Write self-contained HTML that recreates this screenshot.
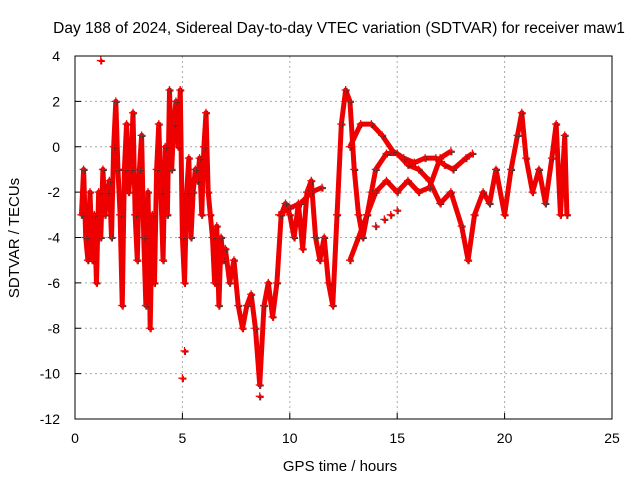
<!DOCTYPE html>
<html><head><meta charset="utf-8"><style>
body{margin:0;background:#fff;}
svg{display:block;font-family:"Liberation Sans",sans-serif;}
</style></head><body>
<svg id="chart" width="640" height="480">
<text x="339" y="33" font-size="15.5" text-anchor="middle">Day 188 of 2024, Sidereal Day-to-day VTEC variation (SDTVAR) for receiver maw1</text>
<text x="340" y="471" font-size="15" text-anchor="middle">GPS time / hours</text>
<text transform="translate(19,238) rotate(-90)" font-size="15" text-anchor="middle">SDTVAR / TECUs</text>
<g id="grid"></g><g id="marks"></g>
<rect x="75" y="56" width="537" height="363" fill="none" stroke="#000" stroke-width="1"/>
</svg>
<script>
const xTicks=[0,5,10,15,20,25];
const yTicks=[4,2,0,-2,-4,-6,-8,-10,-12];
const mainT=[0.3,0.4,0.5,0.6,0.7,0.8,0.9,1.0,1.1,1.2,1.3,1.4,1.5,1.6,1.7,1.8,1.9,2.0,2.1,2.2,2.3,2.4,2.5,2.6,2.7,2.8,2.9,3.0,3.1,3.2,3.3,3.4,3.5,3.6,3.7,3.8,3.9,4.0,4.1,4.2,4.3,4.4,4.5,4.6,4.7,4.8,4.9,5.0,5.1,5.2,5.3,5.4,5.5,5.6,5.7,5.8,5.9,6.0,6.1,6.2,6.3,6.4,6.5,6.6,6.7,6.8,6.9,7.0,7.2,7.4,7.6,7.8,8.0,8.2,8.4,8.6,8.8,9.0,9.2,9.4,9.6,9.8,10.0,10.2,10.4,10.6,10.8,11.0,11.2,11.4,11.6,11.8,12.0,12.2,12.4,12.6,12.8,13.0,13.2,13.4,13.6,13.8,14.0,14.5,15.0,15.5,16.0,16.5,17.0,17.5,18.0,18.3,18.6,19.0,19.3,19.6,20.0,20.3,20.6,20.8,21.0,21.3,21.6,21.9,22.2,22.4,22.6,22.8,22.9];
const mainV=[-3,-1,-4,-5,-2,-5,-3,-6,-2,-4,-1,-3,-2,-1.5,-4,0,2,-1,-3,-7,-1,1,-2,-1,1.5,-3,-5,-1,0.5,-4,-7,-2,-8,-3,-6,-1,1,-2,-5,0,-3,2.5,-1,1,2,0,2.5,-4,-6,-2,-0.5,-4,-2,-1,-1.5,-0.5,-3,0,1.5,-2,-3,-4,-6,-3.5,-7,-4,-5,-4.5,-6,-5,-7,-8,-7,-6.5,-8,-10.5,-7,-6,-7.5,-6,-3,-2.5,-3,-4,-2.5,-4.5,-2,-1.5,-4,-5,-4,-6,-7,-3,1,2.5,2,-1,-3,-4,-3,-2,-1,-0.3,-0.3,-0.8,-1,-1.5,-2.5,-2,-3.5,-5,-3,-2,-2.5,-1,-3,-1,0.5,1.5,-0.5,-2,-1,-2.5,-0.5,1,-3,0.5,-3];
const arcT=[12.8,13.3,13.8,14.3,14.8,15.3,15.8,16.3,16.8,17.2,17.6,18.2,18.5];
const arcV=[0,1,1,0.5,-0.2,-0.5,-0.7,-0.5,-0.5,-0.8,-1,-0.5,-0.3];
const lowT=[12.8,13.2,13.6,14.0,14.5,15.0,15.5,16.0,16.5,17.0,17.5];
const lowV=[-5,-4,-3,-2,-1.5,-2,-1.5,-2,-1.8,-0.5,-0.2];
const midT=[9.5,10.0,10.5,11.0,11.5];
const midV=[-3,-2.7,-2.5,-2,-1.8];
const isoT=[14.0,14.4,14.7,15.0,1.2,5.0,5.1,8.6];
const isoV=[-3.5,-3.2,-3,-2.8,3.8,-10.2,-9,-11];
const X=t=>75+t*537/25, Y=v=>56+(4-v)*363/16;
const NS="http://www.w3.org/2000/svg";
const grid=document.getElementById('grid'), marks=document.getElementById('marks');
function mk(tag,attrs,parent){const e=document.createElementNS(NS,tag);for(const k in attrs)e.setAttribute(k,attrs[k]);parent.appendChild(e);return e;}
xTicks.forEach(t=>{
 if(t>0&&t<25){const l=mk('line',{x1:X(t),x2:X(t),y1:56,y2:419,stroke:'#aaa','stroke-dasharray':'2,3'},grid);}
 mk('line',{x1:X(t),x2:X(t),y1:419,y2:413,stroke:'#000'},grid);
 const s=mk('text',{x:X(t),y:443,'font-size':14,'text-anchor':'middle'},grid);s.textContent=t;
 
 
});
yTicks.forEach(v=>{
 if(v<4&&v>-12){const l=mk('line',{x1:75,x2:612,y1:Y(v),y2:Y(v),stroke:'#aaa','stroke-dasharray':'2,3'},grid);}
 mk('line',{x1:75,x2:81,y1:Y(v),y2:Y(v),stroke:'#000'},grid);
 const s=mk('text',{x:60,y:Y(v)+5,'font-size':14,'text-anchor':'end'},grid);s.textContent=v;
 
 
});
function series(T,V,name,line){
 if(line){const p=mk('polyline',{points:T.map((t,i)=>X(t)+','+Y(V[i])).join(' '),fill:'none',stroke:'#e00',"stroke-width":5,"stroke-linejoin":"round"},marks);
 
 }
 T.forEach((t,i)=>{const x=X(t),y=Y(V[i]);
  mk('path',{d:`M${x-3+1} ${y+1}h6M${x+1} ${y-3+1}v6`,stroke:'#333','stroke-width':1},marks);
  const m=mk('path',{d:`M${x-4} ${y}h8M${x} ${y-4}v8`,stroke:'#f00','stroke-width':1.3},marks);
  
  
 });
}
series(mainT,mainV,'main-track',true);
series(arcT,arcV,'upper-arc',true);
series(lowT,lowV,'lower-arc',true);
series(midT,midV,'mid-track',true);
series(isoT,isoV,'isolated',false);
</script>
</body></html>
